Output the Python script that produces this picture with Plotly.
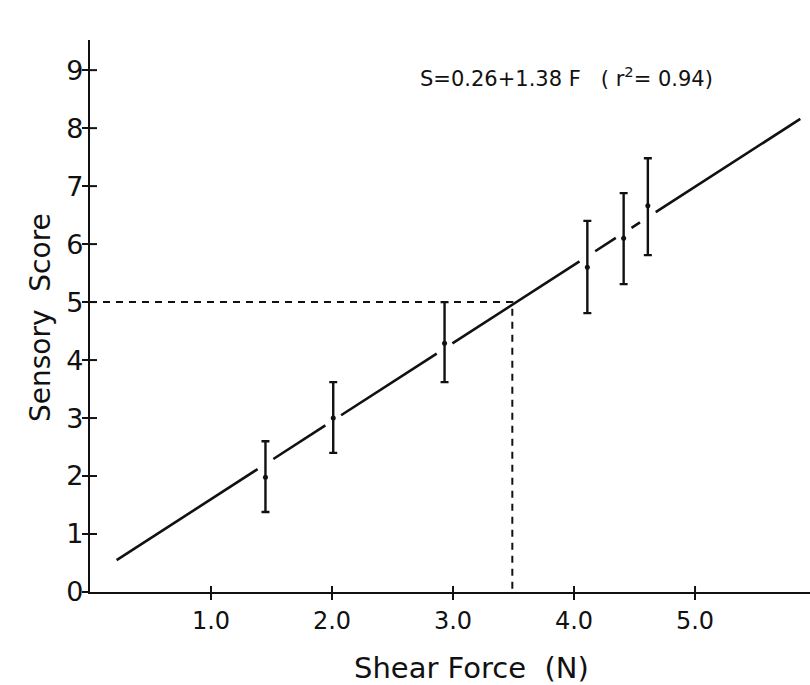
import numpy as np
import plotly.graph_objects as go

# Data
shear_force = [1.45, 2.01, 2.93, 4.11, 4.41, 4.61]
sensory_score = [1.98, 3.00, 4.29, 5.60, 6.10, 6.66]
err_plus = [0.62, 0.62, 0.71, 0.80, 0.78, 0.82]
err_minus = [0.60, 0.60, 0.67, 0.79, 0.79, 0.85]

fit_x = [0.22, 5.87]
fit_y = [0.55, 8.16]

ref_force = 3.49
ref_score = 5.0

x_ticks = [1, 2, 3, 4, 5]
x_ticklabels = ["1.0", "2.0", "3.0", "4.0", "5.0"]
y_ticks = [0, 1, 2, 3, 4, 5, 6, 7, 8, 9]

equation_text = "S=0.26+1.38 F\u00a0\u00a0 ( r<sup>2</sup>= 0.94)"

FONT = "DejaVu Sans"
BLACK = "#111111"

# fit line broken around each data point
gap = 0.065
seg_x = []
starts = [fit_x[0]] + [x + gap for x in shear_force]
ends = [x - gap for x in shear_force] + [fit_x[1]]
for s, e in zip(starts, ends):
    if e > s:
        seg_x += [s, e, None]
seg_y = [None if v is None else float(np.interp(v, fit_x, fit_y)) for v in seg_x]

fig = go.Figure()
fig.add_trace(go.Scatter(x=seg_x, y=seg_y, mode="lines",
                         line=dict(color=BLACK, width=2.6), showlegend=False, hoverinfo="skip"))
# reference dashed lines
fig.add_trace(go.Scatter(x=[0, ref_force, ref_force], y=[ref_score, ref_score, 0], mode="lines",
                         line=dict(color=BLACK, width=2, dash="7px,6px"), showlegend=False))
fig.add_trace(go.Scatter(
    x=shear_force, y=sensory_score, mode="markers",
    marker=dict(color=BLACK, size=5),
    error_y=dict(type="data", symmetric=False, array=err_plus, arrayminus=err_minus,
                 color=BLACK, thickness=2.4, width=4),
    showlegend=False))

# inner halves of the crossing tick marks
shapes = []
for t in y_ticks[1:]:
    shapes.append(dict(type="line", xref="x", yref="y", xsizemode="pixel", xanchor=0,
                       x0=0, x1=7, y0=t, y1=t, line=dict(color=BLACK, width=2)))
for t in x_ticks:
    shapes.append(dict(type="line", xref="x", yref="y", ysizemode="pixel", yanchor=0,
                       x0=t, x1=t, y0=0, y1=6, line=dict(color=BLACK, width=2)))

pw, ph = 810 - 90, 685 - 40 - 93

fig.update_layout(
    width=810, height=685,
    margin=dict(l=90, r=0, t=40, b=93),
    plot_bgcolor="white", paper_bgcolor="white",
    font=dict(family=FONT, color=BLACK),
    shapes=shapes,
    xaxis=dict(range=[0, 5.95], showgrid=False, zeroline=False, showline=True,
               linecolor=BLACK, linewidth=2.4, ticks="outside", ticklen=6, tickwidth=2,
               tickcolor=BLACK, tickvals=x_ticks, ticktext=x_ticklabels,
               tickfont=dict(size=24, family=FONT, color=BLACK)),
    yaxis=dict(range=[0, 9.52], showgrid=False, zeroline=False, showline=True,
               linecolor=BLACK, linewidth=2.4, ticks="outside", ticklen=6, tickwidth=2,
               tickcolor=BLACK, ticklabelstandoff=-7,
               tickvals=y_ticks, ticktext=[str(t) for t in y_ticks],
               tickfont=dict(size=27, family=FONT, color=BLACK)),
    annotations=[
        dict(text=equation_text, x=3.94, y=8.88, xref="x", yref="y", showarrow=False,
             font=dict(size=21, family=FONT, color=BLACK)),
        dict(text="Shear Force\u00a0 (N)", x=(471 - 90) / pw, y=(592 - 668) / ph,
             xref="paper", yref="paper", xanchor="center", yanchor="middle",
             showarrow=False, font=dict(size=29, family=FONT, color=BLACK)),
        dict(text="Sensory\u00a0 Score", x=(40 - 90) / pw, y=(592 - 318) / ph,
             xref="paper", yref="paper", xanchor="center", yanchor="middle",
             showarrow=False, textangle=-90, font=dict(size=28, family=FONT, color=BLACK)),
    ],
)

fig.write_html("out.html")
